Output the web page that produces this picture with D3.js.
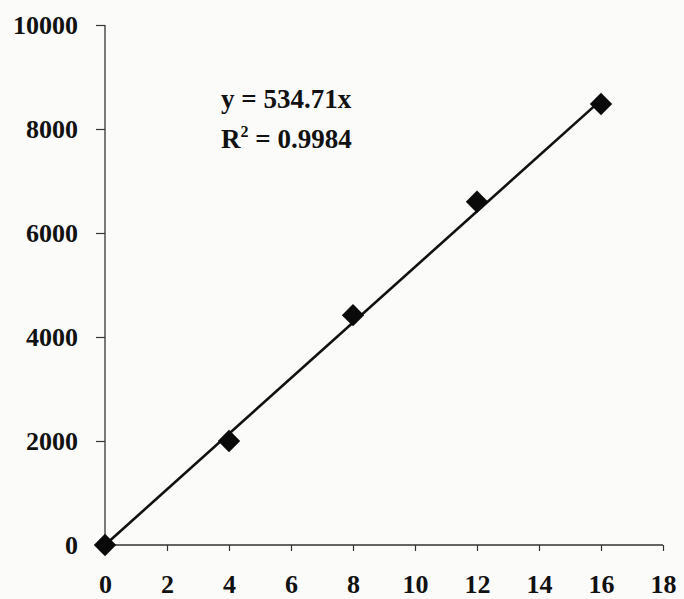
<!DOCTYPE html>
<html>
<head>
<meta charset="utf-8">
<script src="https://cdn.jsdelivr.net/npm/d3@7"></script>
<style>
  body { margin: 0; background: #fbfbfa; }
  svg { display: block; }
  text { font-family: "Liberation Serif", "Times New Roman", serif; font-weight: bold; fill: #111; }
</style>
</head>
<body>
<svg id="chart" width="684" height="599"></svg>
<script>
// measured points (x, signal)
const xValues = [0, 4, 8, 12, 16];
const yValues = [0, 2000, 4420, 6600, 8480];
const xTicks = [0, 2, 4, 6, 8, 10, 12, 14, 16, 18];
const yTicks = [0, 2000, 4000, 6000, 8000, 10000];
const slope = 534.71;
const eqLines = ["y = 534.71x", "R2 = 0.9984"];

const svg = d3.select("svg#chart");

const x = d3.scaleLinear().domain([0, 18]).range([105, 663]);
const y = d3.scaleLinear().domain([0, 10000]).range([545, 25]);

// axes
const xAxis = svg.append("g")
  .attr("transform", "translate(0," + y(0) + ")")
  .call(d3.axisBottom(x).tickValues(xTicks).tickFormat(d3.format("d")).tickSize(6).tickPadding(24));
const yAxis = svg.append("g")
  .attr("transform", "translate(" + x(0) + ",0)")
  .call(d3.axisLeft(y).tickValues(yTicks).tickFormat(d3.format("d")).tickSize(9).tickPadding(18));

[xAxis, yAxis].forEach(function(a) {
  a.select(".domain").attr("stroke", "#333").attr("stroke-width", 1.3);
  a.selectAll(".tick line").attr("stroke", "#333").attr("stroke-width", 1.2);
  a.selectAll(".tick text")
    .style("font-family", "'Liberation Serif', serif")
    .style("font-weight", "bold")
    .style("font-size", "26px")
    .attr("fill", "#111");
});
// d3 axis draws outer ticks; keep a plain line instead
xAxis.select(".domain").attr("d", "M" + x(0) + ",0H" + x(18));
yAxis.select(".domain").attr("d", "M0," + y(0) + "V" + y(10000));
xAxis.selectAll(".tick").filter(d => d === 0).select("line").remove();
yAxis.selectAll(".tick").filter(d => d === 0).select("line").remove();

// trend line
const trend = [0, 16];
svg.append("line")
  .attr("x1", x(trend[0])).attr("y1", y(slope * trend[0]))
  .attr("x2", x(trend[1])).attr("y2", y(slope * trend[1]))
  .attr("stroke", "#111")
  .attr("stroke-width", 2.6);

// diamond markers
const pts = xValues.map((v, i) => ({x: v, y: yValues[i]}));
svg.selectAll("path.marker")
  .data(pts)
  .enter()
  .append("path")
  .attr("class", "marker")
  .attr("d", d3.symbol().type(d3.symbolSquare).size(250))
  .attr("transform", d => "translate(" + x(d.x) + "," + y(d.y) + ") rotate(45)")
  .attr("fill", "#0a0a0a");

// equation
const eq = svg.append("g").style("font-size", "27px");
eq.append("text").attr("x", 221).attr("y", 108).text(eqLines[0]);
const r2 = eq.append("text").attr("x", 221).attr("y", 148);
r2.append("tspan").text("R");
r2.append("tspan").attr("dy", -11).style("font-size", "16px").text("2");
r2.append("tspan").attr("dy", 11).text(" = 0.9984");
</script>
</body>
</html>
